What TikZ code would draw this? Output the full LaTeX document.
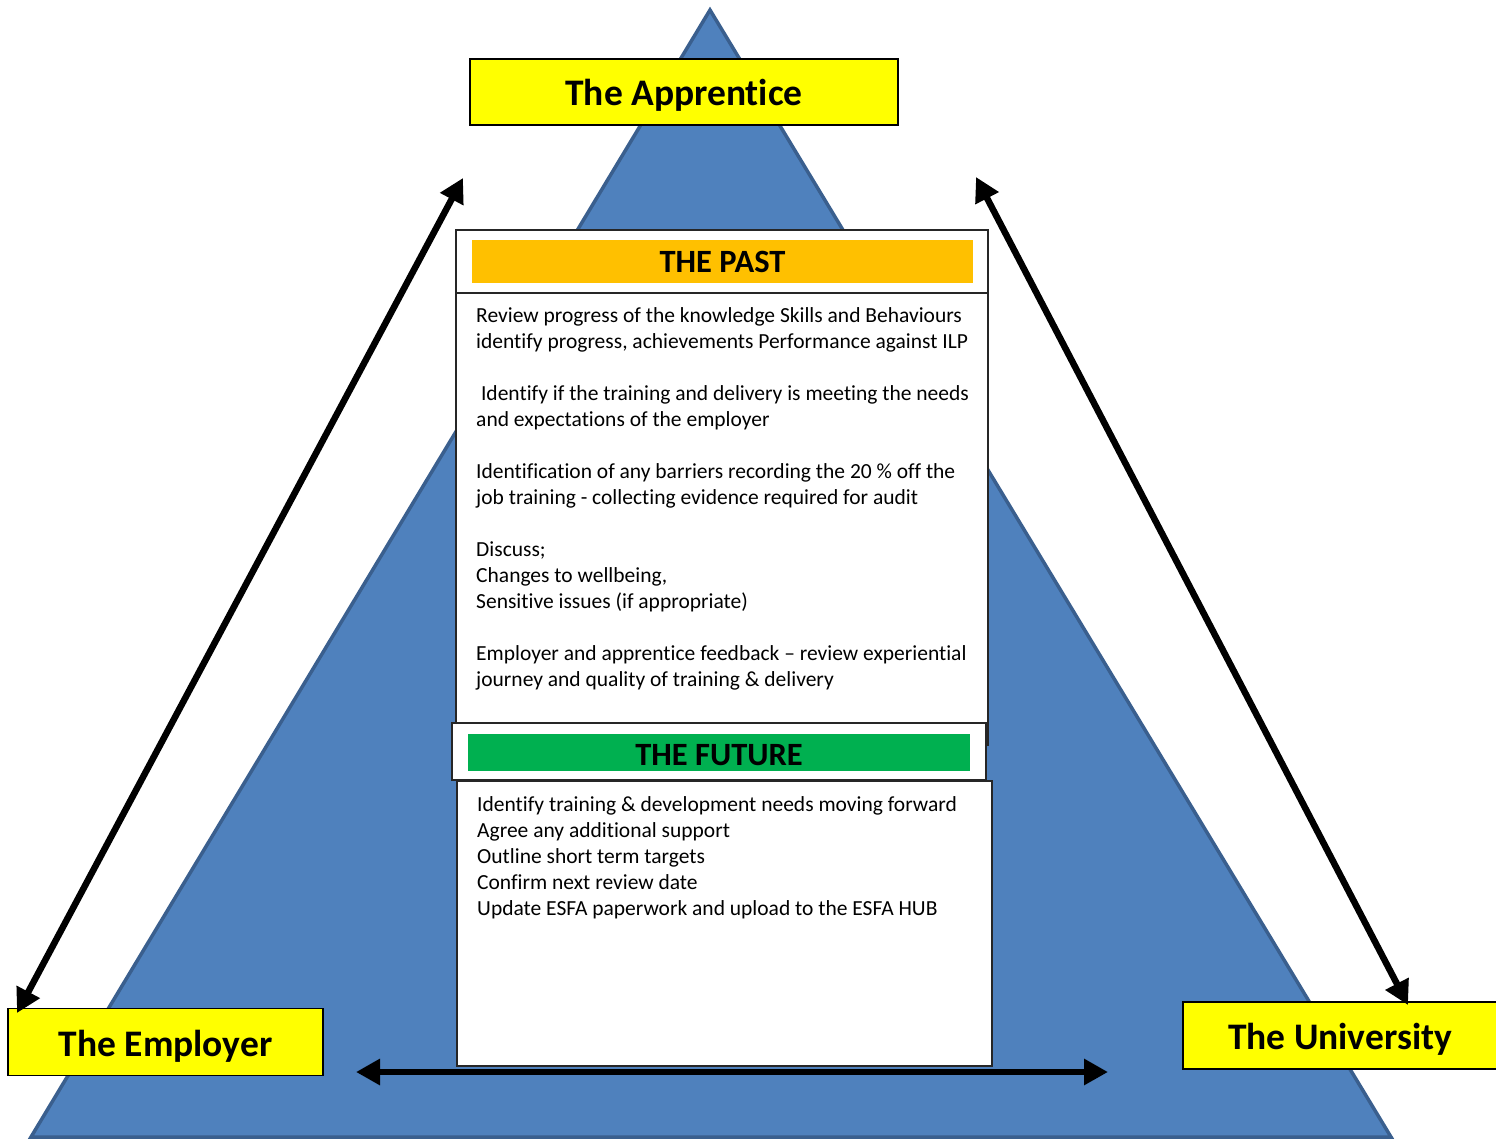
\documentclass[tikz,border=0pt]{standalone}
\usepackage{fontspec}
\setmainfont{Carlito}[Ligatures=NoCommon]
\usetikzlibrary{arrows.meta}
\definecolor{triblue}{HTML}{4F81BD}
\definecolor{triedge}{HTML}{3A5F8E}
\definecolor{partyellow}{HTML}{FFFF00}
\definecolor{pastorange}{HTML}{FFC000}
\definecolor{futuregreen}{HTML}{00B050}
\tikzset{
  party/.style={draw=black, line width=1.6pt, fill=partyellow, inner sep=0pt,
    text height=28pt, text depth=0pt,
    font=\fontsize{37.5}{44}\selectfont\bfseries},
  panel/.style={draw=black!85, line width=1.4pt, fill=white},
  bar/.style={inner sep=0pt, font=\fontsize{32.5}{38}\selectfont\bfseries},
  bodytext/.style={anchor=north west, inner sep=0pt, align=left,
    font=\fontsize{21.5}{26}\selectfont},
  link/.style={line width=6.5pt,
    {Triangle[length=24pt,width=25pt]}-{Triangle[length=24pt,width=25pt]}}
}
\begin{document}
\begin{tikzpicture}[x=1pt,y=-1pt]
\useasboundingbox (0,0) rectangle (1496,1139);

% the pyramid behind everything
\draw[triedge, line width=3.5pt, fill=triblue, line join=miter]
  (710,10) -- (1391,1137) -- (31,1137) -- cycle;

% the three parties
\node[party, minimum width=428pt, minimum height=66pt] (apprentice) at (684,92) {The Apprentice};
\node[party, minimum width=315pt, minimum height=67pt] (employer) at (165.5,1042) {The Employer};
\node[party, minimum width=314pt, minimum height=67pt] (university) at (1340,1035.5) {The University};

% review panel: the past
\draw[panel] (456,230) rectangle (988,745);
\draw[black!85, line width=1.4pt] (456,293) -- (988,293);
\node[bar, fill=pastorange, minimum width=501pt, minimum height=43pt] (past) at (722.5,261.5) {THE PAST};
% \strut on the first line: the node's top lies 18.2pt above the first baseline
\node[bodytext] (pasttext) at (476,303.8) {\strut
Review progress of the knowledge Skills and Behaviours\\
identify progress, achievements Performance against ILP\\[26pt]
\ Identify if the training and delivery is meeting the needs\\
and expectations of the employer\\[26pt]
Identification of any barriers recording the 20 \% off the\\
job training - collecting evidence required for audit\\[26pt]
Discuss;\\
Changes to wellbeing,\\
Sensitive issues (if appropriate)\\[26pt]
Employer and apprentice feedback – review experiential\\
journey and quality of training \& delivery};

% review panel: the future
\draw[panel] (452,723) rectangle (986,780);
\node[bar, fill=futuregreen, minimum width=502pt, minimum height=37pt,
  text height=26pt, text depth=0pt] (future) at (719,752.5) {THE FUTURE};
\draw[panel] (457,781) rectangle (992,1066);
\node[bodytext] (futuretext) at (477,792.8) {\strut
Identify training \& development needs moving forward\\
Agree any additional support\\
Outline short term targets\\
Confirm next review date\\
Update ESFA paperwork and upload to the ESFA HUB};

% two-way links between the parties
\coordinate (lt) at (463,178);
\coordinate (lb) at (17,1013);
\coordinate (rt) at (976,177);
\coordinate (rb) at (1408,1005);
\coordinate (bl) at (356,1072);
\coordinate (br) at (1108,1072);
\draw[link] (lt) -- (lb);
\draw[link] (rt) -- (rb);
\draw[link] (bl) -- (br);
\end{tikzpicture}
\end{document}
